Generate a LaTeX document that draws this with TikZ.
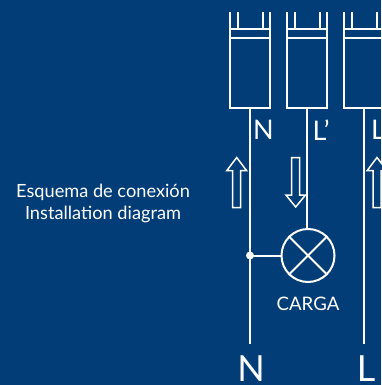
\documentclass[tikz,border=0pt]{standalone}
\usepackage{fontspec}
\setmainfont{Lato}
\definecolor{bgblue}{HTML}{023D78}
\tikzset{
  wire/.style={draw=white,line width=2pt},
  arrowshape/.style={draw=white,line width=1.5pt,fill=bgblue,line join=miter},
  lbl/.style={text=white,inner sep=0pt,anchor=center},
}
\newcommand{\fusebox}[2]{% left x, name
  \draw[wire] (#1,12) -- (#1,108.5) -- (#1+40,108.5) -- (#1+40,12);
  \draw[wire] (#1+7.5,12) -- (#1+7.5,28.7);
  \draw[wire] (#1+32.5,12) -- (#1+32.5,28.7);
  \draw[wire] (#1,28.7) -- (#1+40,28.7);
  \draw[wire] (#1,38) -- (#1+40,38);
  \coordinate (#2) at (#1+20,108.5);
}
\begin{document}
\begin{tikzpicture}[x=1pt,y=-1pt]
\path[use as bounding box,fill=bgblue] (0,0) rectangle (381,385);
\fusebox{230}{bN}
\fusebox{287}{bLp}
\fusebox{344}{bL}
\coordinate (endN) at (250,343.5);
\coordinate (endL) at (364,343.5);
\node[circle,draw=white,line width=2pt,minimum size=53pt,inner sep=0pt] (lamp) at (308,255.5) {};
\fill[white] (250,255.5) circle (4pt) coordinate (dot);
\draw[wire] (bN) -- (endN);
\draw[wire] (bL) -- (endL);
\draw[wire] (bLp) -- (lamp.north -| bLp);
\draw[wire] (dot) -- (lamp.west);
\draw[wire] (lamp.45) -- (lamp.225);
\draw[wire] (lamp.135) -- (lamp.315);
\draw[arrowshape] (236.7,157.5) -- (246.5,170.5) -- (240.7,170.5) -- (240.7,207.5) -- (232.7,207.5) -- (232.7,170.5) -- (226.9,170.5) -- cycle;
\draw[arrowshape] (295.7,207) -- (285.9,195) -- (291.7,195) -- (291.7,157.5) -- (299.7,157.5) -- (299.7,195) -- (305.5,195) -- cycle;
\draw[arrowshape] (377,157.5) -- (386.8,170.5) -- (381,170.5) -- (381,207.5) -- (373,207.5) -- (373,170.5) -- (367.2,170.5) -- cycle;
\node[lbl,font=\fontsize{27pt}{28pt}\selectfont] (tN) at (263.5,130) {N};
\node[lbl,font=\fontsize{27pt}{28pt}\selectfont,anchor=west] (tLp) at (312.5,130) {L’};
\node[lbl,font=\fontsize{27pt}{28pt}\selectfont,anchor=west] (tL) at (371,130) {L};
\node[lbl,font=\fontsize{18.6pt}{20pt}\selectfont] (carga) at (308,303.5) {CARGA};
\node[lbl,font=\fontsize{36pt}{38pt}\selectfont] (bigN) at (251,368.5) {N};
\node[lbl,font=\fontsize{36pt}{38pt}\selectfont] (bigL) at (366,368.5) {L};
\node[lbl,font=\fontsize{18.2pt}{20pt}\selectfont] (t1) at (103,192) {Esquema de conexión};
\node[lbl,font=\fontsize{18.2pt}{20pt}\selectfont] (t2) at (103,214.5) {Installation diagram};
\end{tikzpicture}
\end{document}
